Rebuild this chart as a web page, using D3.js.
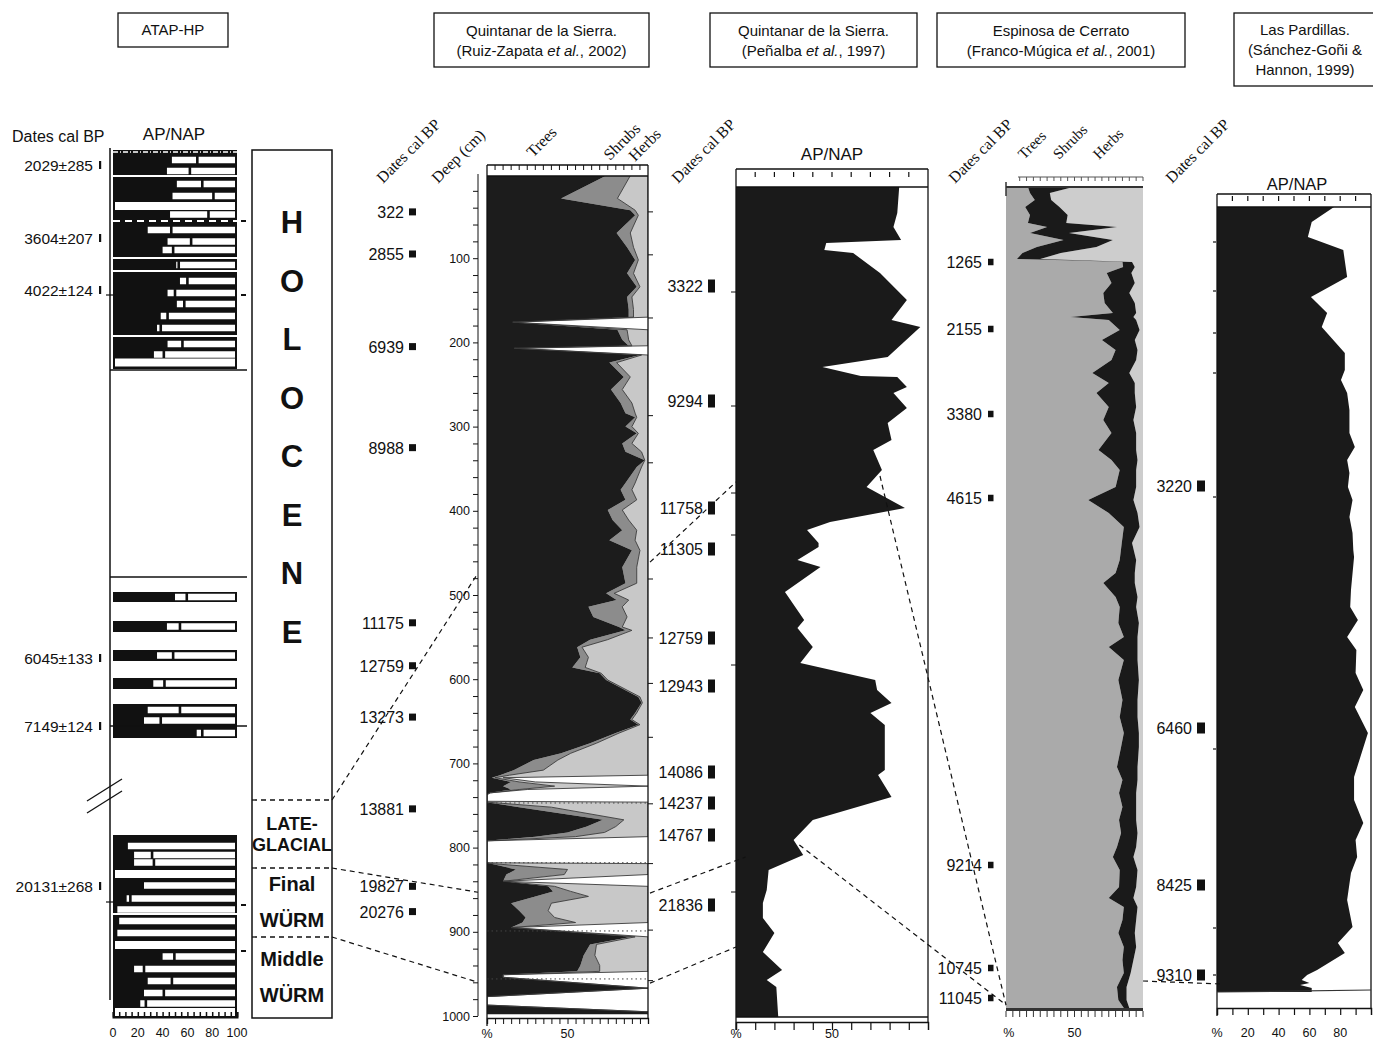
<!DOCTYPE html>
<html>
<head>
<meta charset="utf-8">
<script src="https://cdn.jsdelivr.net/npm/d3@7"></script>
<style>
  body { margin: 0; background: #fff; }
  svg { display: block; }
</style>
</head>
<body>
<svg id="chart" width="1373" height="1041"></svg>
<script>
// ===================== DATA =====================

// --- ATAP-HP (archaeological sequence, AP / shrubs / herbs bars) ---
// [level, AP %, AP + shrubs %]
const atapSamples = [
  [10, 47.5, 68], [21, 43.5, 62], [34, 51.5, 72], [46, 48, 81], [56, 0, 0], [64.5, 46, 77],
  [80, 28, 47], [91.5, 44, 63], [100, 40, 48.5], [115, 51, 53], [131, 54, 60], [143, 44, 50],
  [154, 51.5, 57.5], [166, 38.5, 44], [178, 35.5, 38.5], [194, 44, 56], [204.5, 33, 41], [212.5, 0, 0],
  [447, 50, 59.5], [476.5, 43.5, 54], [505.5, 35.5, 48.5], [533.5, 32.5, 41.5],
  [560, 28, 54], [570.5, 25, 38.5], [583, 67.5, 72],
  [696, 12, 12], [705, 17, 31.5], [712.5, 17, 33], [724, 0, 0], [735.5, 25, 25], [748.5, 11, 14],
  [759.5, 3.5, 3.5], [771, 5, 5], [783, 3.5, 3.5], [795, 0, 0], [806.5, 40, 49.5], [819, 17, 25],
  [831, 28, 47.5], [843, 25, 41], [853.5, 22, 26.5], [862, 0, 0]
];
const atapLayers = [[0, 219], [442, 452], [471, 482], [500, 511], [528, 539], [554, 588], [685, 867]];
const atapLayerBreaks = [26, 108, 121, 186, 764];
const atapZoneLines = [220, 427, 576];
const atapDates = [["2029±285", 15], ["3604±207", 88], ["4022±124", 140], ["6045±133", 508], ["7149±124", 576], ["20131±268", 736]];
const atapTicks = [0, 20, 40, 60, 80, 100];

// chronostratigraphic units (ATAP levels)
const stratUnits = [
  { lines: ["H", "O", "L", "O", "C", "E", "N", "E"], top: 0, bottom: 650 },
  { lines: ["LATE-", "GLACIAL"], top: 650, bottom: 718 },
  { lines: ["Final", "WÜRM"], top: 718, bottom: 787 },
  { lines: ["Middle", "WÜRM"], top: 787, bottom: 868 }
];

// --- Quintanar de la Sierra (Ruiz-Zapata et al., 2002) ---
// [depth cm, trees %, shrubs %, herbs %]
const ruizSamples = [
  [2, 74, 15, 11], [29, 46, 35, 19], [43, 89, 3, 8], [49, 92, 2, 6], [70, 80.5, 8.5, 11],
  [87, 87, 4, 9], [102, 92, 2, 6], [118, 87, 4, 9], [134, 93, 2, 5], [146, 87, 3, 10],
  [161, 88, 3, 9], [170, 88, 3, 9], [176, 16, 0, 0], [185, 81, 6, 13], [197, 84, 4, 12],
  [204, 88, 2, 10], [207, 17, 0, 0], [215, 95, 1, 4], [224, 76, 4.5, 19.5], [241, 85, 4, 11],
  [256, 77, 7, 16], [272, 83, 7, 10], [284, 86, 6, 8], [289, 92, 1, 7], [300, 86, 4, 10],
  [308, 93, 1, 6], [320, 84, 6, 10], [330, 86, 10, 4], [340, 98, 0, 2], [348, 93, 3, 4],
  [367, 86, 6, 8], [375, 83, 7, 10], [387, 86, 7, 7], [399, 75, 9, 16], [411, 78, 10, 12],
  [423, 84, 9, 7], [435, 76, 16, 8], [447, 90, 5, 5], [467, 84, 9, 7], [486, 86, 7, 7],
  [498, 74, 5, 21], [506, 80.5, 7.5, 12], [514, 63, 21, 16], [526, 66, 21, 13], [538, 82, 2, 16],
  [542, 86, 4, 10], [553, 64, 11, 25], [562, 56, 3, 41], [574, 58, 5, 37], [586, 53, 8, 39],
  [593, 70, 1, 29], [601, 74, 1, 25], [613, 86, 1, 13], [621, 94, 1, 5], [628, 96, 0.5, 3.5],
  [640, 92, 1, 7], [648, 89, 1, 10], [654, 94, 1, 5], [664, 80, 2, 18], [676, 64, 4, 32],
  [688, 46, 6, 48], [696, 29, 15, 56], [708, 16.5, 18.5, 65], [714, 8, 6, 86], [717, 3, 2, 5],
  [722, 15, 5, 10], [727, 10, 32, 58], [731, 15, 5, 5], [735, 2, 0, 0], [737, 0, 0, 0],
  [745, 0, 0, 0], [746, 0, 0, 100], [752, 20, 20, 60], [767, 72, 13, 15], [775, 62, 18, 20],
  [782, 50, 23, 27], [787, 30, 25, 45], [792, 0, 0, 0], [818, 0, 0, 0], [819, 2, 1, 97],
  [826, 18, 32, 50], [832, 12, 36, 52], [840, 10, 0, 0], [846, 38, 4, 58], [852, 41, 11, 48],
  [858, 30, 33, 37], [866, 15, 25, 60], [875, 20, 18, 62], [883, 24, 18, 58], [889, 22, 33, 45],
  [895, 15, 0, 0], [906, 90, 2, 8], [915, 64, 4, 32], [928, 60, 7, 33], [940, 58, 12, 30],
  [947, 56, 14, 30], [951, 10, 0, 0], [954, 10, 0, 0], [967, 100, 0, 0], [977, 0, 0, 0],
  [987, 0, 0, 0], [995, 100, 0, 0], [998, 100, 0, 0]
];
const ruizDates = [["322", 45], ["2855", 95], ["6939", 205], ["8988", 325], ["11175", 533], ["12759", 584],
  ["13273", 645], ["13881", 754], ["19827", 846], ["20276", 876]];
const ruizDepthTicks = [100, 200, 300, 400, 500, 600, 700, 800, 900, 1000];
const ruizSideTicks = [45, 96, 171, 287, 343, 481, 551, 605, 669, 748, 819, 898, 958];
const ruizHiatuses = [747, 818, 899, 956];

// --- Quintanar de la Sierra (Peñalba et al., 1997) --- [depth cm, AP %]
const penalbaAP = [
  [0, 85], [26, 84], [40, 82], [53, 86], [56, 47], [63, 46], [66, 61], [86, 75], [113, 89],
  [133, 81], [140, 96], [170, 79], [180, 45], [189, 65], [190, 84], [200, 89], [206, 82],
  [221, 89], [236, 79], [253, 81], [263, 71.5], [283, 76], [300, 68], [321, 88], [335, 49],
  [343, 37], [356, 43], [360, 43], [373, 32], [380, 44], [405, 25.5], [433, 35.5], [441, 32],
  [460, 40], [476, 33.5], [493, 72.5], [503, 73.5], [516, 81], [526, 70], [538, 77.5],
  [583, 77.5], [588, 74], [610, 81], [633, 40], [653, 30], [668, 35], [683, 17], [703, 16],
  [716, 14], [731, 14], [746, 20], [765, 14], [783, 24], [793, 16], [800, 21], [830, 22]
];
const penalbaDates = [["3322", 99], ["9294", 214], ["11758", 321], ["11305", 362], ["12759", 451],
  ["12943", 499], ["14086", 585], ["14237", 616], ["14767", 648], ["21836", 718]];
const penalbaSideTicks = [105, 219, 306, 348, 478, 705];

// --- Espinosa de Cerrato (Franco-Múgica et al., 2001) --- [depth cm, trees %, shrubs %, herbs %]
const espinosaSamples = [
  [0, 16, 33, 51], [6, 17.5, 14.5, 68], [13, 21, 12, 67], [20, 14, 25, 61], [28, 17.5, 27.5, 55],
  [36, 16, 28, 56], [40, 30, 51, 19], [46, 17.5, 28.5, 54], [53, 42, 36, 22], [60, 22.5, 43.5, 34],
  [66, 12, 28, 60], [72, 8, 17, 75], [73.5, 50, 10, 40], [75, 85, 7, 8], [80, 85.5, 8.5, 6],
  [86, 73.5, 18, 8.5], [96, 77, 17, 6], [106, 71, 19, 10], [116, 72, 22, 6], [126, 78, 17, 5],
  [130, 47, 46, 7], [133, 75, 20, 5], [143, 83, 14.5, 2.5], [153, 70, 24, 6], [163, 80, 16, 4],
  [173, 77, 18, 5], [186, 63, 27, 10], [196, 75, 19, 6], [206, 66, 28, 6], [220, 75, 20, 5],
  [233, 71, 22, 7], [246, 77, 18, 5], [263, 67.5, 27.5, 5], [273, 77, 19, 4], [283, 83, 12, 5],
  [300, 80, 15, 5], [313, 60, 33, 7], [326, 75, 21, 4], [340, 86, 11.5, 2.5], [356, 84.5, 7.5, 8],
  [373, 83, 12, 5], [386, 80, 14, 6], [396, 71, 23, 6], [410, 80, 16, 4], [420, 83, 12, 5],
  [436, 82, 15, 3], [450, 86, 10, 4], [460, 75, 21, 4], [473, 86, 10, 4], [493, 82, 15, 3],
  [513, 85, 11, 4], [530, 83, 13, 4], [546, 86, 11, 3], [560, 84, 13, 3], [580, 81, 15, 4],
  [593, 85, 11, 4], [606, 82.5, 12.5, 5], [620, 85, 10, 5], [633, 82.5, 12.5, 5], [646, 84, 12, 4],
  [660, 81, 14, 5], [670, 78, 15, 7], [683, 83, 13, 4], [700, 82.5, 12.5, 5], [711, 75, 18, 7],
  [720, 86, 10, 4], [733, 85, 10, 5], [746, 82, 12, 6], [760, 86, 9, 5], [773, 85, 8, 7],
  [786, 86, 5, 9], [800, 81, 7, 12], [813, 82, 6, 12], [821, 86, 4, 10]
];
const espinosaDates = [["1265", 75], ["2155", 142], ["3380", 227], ["4615", 311], ["9214", 678], ["10745", 781], ["11045", 811]];

// --- Las Pardillas (Sánchez-Goñi & Hannon, 1999) --- [depth cm, AP %]
const pardillasAP = [
  [0, 76], [15, 61.5], [30, 59], [43, 82], [70, 84.5], [90, 61], [106, 71.5], [120, 68], [146, 83],
  [163, 83], [173, 80.5], [186, 84.5], [203, 86], [226, 86], [240, 89.5], [253, 84.5], [266, 86],
  [280, 85], [293, 88], [310, 86], [326, 88], [343, 88.5], [350, 89], [383, 87], [400, 86.5],
  [413, 91.5], [430, 84.5], [443, 90.5], [466, 90], [483, 95], [500, 89.5], [526, 98], [570, 89],
  [593, 89], [616, 95], [633, 90], [650, 91], [666, 87], [693, 84.5], [720, 88], [736, 78.5],
  [746, 83], [763, 65], [768, 58.5], [773, 55], [776, 60], [778, 54], [781, 61.5], [785, 61.5]
];
const pardillasDates = [["3220", 279], ["6460", 521], ["8425", 678], ["9310", 768]];
const pardillasSideTicks = [35, 84, 126, 166, 290, 542, 721, 768];
const pardillasTicks = [20, 40, 60, 80];

// ===================== DRAWING =====================
const SANS = "'Liberation Sans', Arial, Helvetica, sans-serif";
const SERIF = "'Liberation Serif', 'Times New Roman', serif";
const INK = "#111";
const AXIS_LABEL_Y = 1037;
const svg = d3.select("#chart");

function line(g, x1, y1, x2, y2, w = 1, color = INK, dash = null) {
  const l = g.append("line").attr("x1", x1).attr("y1", y1).attr("x2", x2).attr("y2", y2)
    .attr("stroke", color).attr("stroke-width", w);
  if (dash) l.attr("stroke-dasharray", dash);
  return l;
}
function text(g, x, y, str, size, anchor = "start", opts = {}) {
  return g.append("text").attr("x", x).attr("y", y).attr("font-family", opts.family || SANS)
    .attr("font-size", size).attr("font-weight", opts.weight || "normal")
    .attr("text-anchor", anchor).attr("fill", INK).text(str);
}
function rotLabel(x, y, str, size = 16) {
  svg.append("text").attr("transform", `translate(${x},${y}) rotate(-45)`)
    .attr("font-family", SERIF).attr("font-size", size).attr("fill", INK).text(str);
}
function titleBox(x, y, w, h, lines) {
  svg.append("rect").attr("x", x).attr("y", y).attr("width", w).attr("height", h)
    .attr("fill", "#fff").attr("stroke", INK).attr("stroke-width", 1.3);
  lines.forEach(ln => {
    const t = svg.append("text").attr("x", x + w / 2 + (ln.dx || 0)).attr("y", ln.y)
      .attr("text-anchor", "middle").attr("font-family", SANS).attr("font-size", 15).attr("fill", INK);
    ln.parts.forEach(p => t.append("tspan").attr("font-style", p.i ? "italic" : "normal").text(p.t));
  });
}
function dateMarks(g, dates, yScale, textEnd, mx, mw, mh) {
  dates.forEach(([lab, d]) => {
    const y = yScale(d);
    text(g, textEnd, y + 6, lab, 16, "end");
    g.append("rect").attr("x", mx).attr("y", y - mh / 2).attr("width", mw).attr("height", mh).attr("fill", INK);
  });
}

// ---------- titles ----------
titleBox(118, 13, 110, 34, [{ y: 35, parts: [{ t: "ATAP-HP" }] }]);
titleBox(434, 13, 215, 54, [
  { y: 36, parts: [{ t: "Quintanar de la Sierra." }] },
  { y: 56, parts: [{ t: "(Ruiz-Zapata " }, { t: "et al.", i: true }, { t: ", 2002)" }] }]);
titleBox(710, 13, 207, 54, [
  { y: 36, parts: [{ t: "Quintanar de la Sierra." }] },
  { y: 56, parts: [{ t: "(Peñalba " }, { t: "et al.", i: true }, { t: ", 1997)" }] }]);
titleBox(937, 13, 248, 54, [
  { y: 36, parts: [{ t: "Espinosa de Cerrato" }] },
  { y: 56, parts: [{ t: "(Franco-Múgica " }, { t: "et al.", i: true }, { t: ", 2001)" }] }]);
titleBox(1234, 13, 160, 73, [
  { y: 35, dx: -9, parts: [{ t: "Las Pardillas." }] },
  { y: 55, dx: -9, parts: [{ t: "(Sánchez-Goñi &" }] },
  { y: 75, dx: -9, parts: [{ t: "Hannon, 1999)" }] }]);

// ---------- ATAP-HP column ----------
{
  const g = svg.append("g");
  const x = d3.scaleLinear([0, 100], [113, 237]);
  const y = d3.scaleLinear([0, 866], [150, 1016]);

  text(g, 12, 142, "Dates cal BP", 16);
  text(g, 174, 140, "AP/NAP", 17, "middle");

  line(g, 110, 148, 110, 1000, 1.5);
  atapLayers.forEach(([d0, d1]) => {
    g.append("rect").attr("x", x(0)).attr("y", y(d0)).attr("width", x(100) - x(0))
      .attr("height", y(d1) - y(d0)).attr("fill", INK);
  });
  atapLayerBreaks.forEach(d => line(g, x(0), y(d), x(100), y(d), 2, "#fff"));
  line(g, x(0), y(71), x(100), y(71), 2, "#fff", "7,5");
  line(g, x(0), y(2), x(100), y(2), 1.5, "#fff", "5,2,1,2");

  atapSamples.forEach(([d, ap, aps]) => {
    const h = ap === 0 ? 8 : 6.5;
    const y0 = y(d) - h / 2;
    const xe = x(100) - 2;
    const box = (a, b) => g.append("rect").attr("x", a).attr("y", y0).attr("width", Math.max(0, b - a))
      .attr("height", h).attr("fill", "#fff");
    const xa = Math.max(x(ap), x(0) + 2);
    if (aps - ap < 0.8) box(xa, xe);
    else { box(xa, x(aps) - 1.3); box(x(aps) + 1.3, xe); }
  });

  atapZoneLines.forEach(d => line(g, 110, y(d), 247, y(d), 1.6));
  [71, 145, 755, 801].forEach(d => line(g, 241, y(d), 246, y(d), 2));
  [145, 752].forEach(d => line(g, 106, y(d), 114, y(d), 1.2));

  // axis break
  line(g, 87, 801, 122, 779, 1.3);
  line(g, 87, 813, 122, 791, 1.3);

  // dates
  atapDates.forEach(([lab, d]) => {
    text(g, 93, y(d) + 5.5, lab, 15.5, "end");
    g.append("rect").attr("x", 99).attr("y", y(d) - 4).attr("width", 2.2).attr("height", 8).attr("fill", INK);
  });

  // % axis
  const axG = g.append("g").attr("transform", "translate(0,1017)");
  axG.call(d3.axisBottom(x).tickValues(d3.range(0, 101, 5)).tickSize(-5).tickFormat(""));
  axG.select(".domain").attr("stroke", INK).attr("stroke-width", 2);
  axG.selectAll(".tick line").attr("stroke", INK).attr("stroke-width", 1.5);
  atapTicks.forEach(v => text(g, x(v), AXIS_LABEL_Y, String(v), 12.5, "middle"));

  // chronostratigraphic column
  const sx0 = 252, sx1 = 332, cx = (sx0 + sx1) / 2;
  g.append("rect").attr("x", sx0).attr("y", y(0)).attr("width", sx1 - sx0).attr("height", y(868) - y(0))
    .attr("fill", "#fff").attr("stroke", INK).attr("stroke-width", 1.5);
  stratUnits.forEach((u, i) => {
    if (i > 0) line(g, sx0, y(u.top), sx1, y(u.top), 1.3, INK, "5,4");
    if (i === 0) {
      u.lines.forEach((ch, k) => text(g, cx, y(83 + k * 58.5), ch, 31, "middle", { weight: "bold" }));
    } else {
      const size = i === 1 ? 18 : 20;
      const mid = (y(u.top) + y(u.bottom)) / 2;
      const gap = i === 1 ? 21 : 36;
      text(g, cx, mid - gap / 2 + 6, u.lines[0], size, "middle", { weight: "bold" });
      text(g, cx, mid + gap / 2 + 6, u.lines[1], size, "middle", { weight: "bold" });
    }
  });
  svg.node().__atap = { y };
}

// ---------- Quintanar (Ruiz-Zapata) ----------
const rx = d3.scaleLinear([0, 100], [487, 648]);
const ry = d3.scaleLinear([0, 1000], [174, 1016]);
{
  const g = svg.append("g");
  svg.append("clipPath").attr("id", "clipRuiz").append("rect")
    .attr("x", rx(0)).attr("y", 176).attr("width", rx(100) - rx(0)).attr("height", 1016 - 176);
  const rows = ruizSamples.map(([d, t, s, h]) => ({ d, t, ts: t + s, tsh: t + s + h }));
  const area = (f0, f1) => d3.area().y(r => ry(r.d)).x0(r => rx(f0(r))).x1(r => rx(f1(r)));
  const pg = g.append("g").attr("clip-path", "url(#clipRuiz)");
  pg.append("path").attr("d", area(r => r.ts, r => r.tsh)(rows)).attr("fill", "#c8c8c8");
  pg.append("path").attr("d", area(r => r.t, r => r.ts)(rows)).attr("fill", "#8c8c8c");
  pg.append("path").attr("d", area(() => 0, r => r.t)(rows)).attr("fill", "#1c1c1c");
  const edge = f => d3.line().y(r => ry(r.d)).x(r => rx(f(r)));
  pg.append("path").attr("d", edge(r => r.ts)(rows)).attr("fill", "none").attr("stroke", "#3a3a3a").attr("stroke-width", 0.9);
  pg.append("path").attr("d", edge(r => r.tsh)(rows)).attr("fill", "none").attr("stroke", "#3a3a3a").attr("stroke-width", 0.9);
  ruizHiatuses.forEach(d => line(pg, rx(0), ry(d), rx(100), ry(d), 1, "#444", "1.5,3"));

  // frame and % strips
  line(g, rx(0), 165, rx(0), 1026, 1.3);
  line(g, rx(100), 165, rx(100), 1018, 1.3);
  line(g, rx(0), 165, rx(100), 165, 1.3);
  line(g, rx(0), 176, rx(100), 176, 1.3);
  d3.range(5, 100, 5).forEach(v => line(g, rx(v), 165, rx(v), 170, 1));
  const bx = g.append("g").attr("transform", "translate(0,1018)");
  bx.call(d3.axisBottom(rx).tickValues(d3.range(0, 101, 5)).tickSize(6).tickFormat(""));
  bx.select(".domain").attr("stroke", INK).attr("stroke-width", 1.3);
  bx.selectAll(".tick line").attr("stroke", INK);
  text(g, rx(0), AXIS_LABEL_Y + 1, "%", 12.5, "middle");
  text(g, rx(50), AXIS_LABEL_Y + 1, "50", 12.5, "middle");

  // depth axis
  const dx = g.append("g").attr("transform", "translate(478,0)");
  dx.call(d3.axisLeft(ry).tickValues(d3.range(20, 1001, 20)).tickSize(5).tickFormat(""));
  dx.select(".domain").attr("stroke", INK).attr("d", `M0,${ry(0)}V${ry(1000)}`);
  dx.selectAll(".tick line").attr("stroke", INK);
  ruizDepthTicks.forEach(v => text(g, 470, ry(v) + 4.5, String(v), 12.5, "end"));

  ruizSideTicks.forEach(d => line(g, rx(100), ry(d), rx(100) + 5, ry(d), 1));
  dateMarks(g, ruizDates, ry, 404, 409, 7, 7);

  rotLabel(383, 184, "Dates cal BP");
  rotLabel(438, 184, "Deep (cm)");
  rotLabel(533, 158, "Trees");
  rotLabel(610, 161, "Shrubs");
  rotLabel(635, 162, "Herbs");
}

// ---------- Quintanar (Peñalba) ----------
const px = d3.scaleLinear([0, 100], [736, 928]);
const py = d3.scaleLinear([0, 830], [187, 1017]);
{
  const g = svg.append("g");
  text(g, px(50), 160, "AP/NAP", 17, "middle");
  g.append("path").attr("d", d3.area().y(r => py(r[0])).x0(px(0)).x1(r => px(r[1]))(penalbaAP)).attr("fill", "#1a1a1a");
  line(g, px(0), 169, px(100), 169, 1.3);
  line(g, px(0), 187, px(100), 187, 1.3);
  d3.range(10, 100, 10).forEach(v => line(g, px(v), 172, px(v), 177, 1.2));
  line(g, px(0), 169, px(0), 1030, 1.3);
  line(g, px(100), 169, px(100), 1022, 1.3);
  line(g, px(0), py(830), px(100), py(830), 1.3);
  const bx = g.append("g").attr("transform", "translate(0,1022)");
  bx.call(d3.axisBottom(px).tickValues(d3.range(0, 101, 10)).tickSize(8).tickFormat(""));
  bx.select(".domain").attr("stroke", INK).attr("stroke-width", 1.3);
  bx.selectAll(".tick line").attr("stroke", INK).attr("stroke-width", 1.2);
  text(g, px(0), AXIS_LABEL_Y + 1, "%", 12.5, "middle");
  text(g, px(50), AXIS_LABEL_Y + 1, "50", 12.5, "middle");
  penalbaSideTicks.forEach(d => line(g, px(0) - 5, py(d), px(0), py(d), 1));
  dateMarks(g, penalbaDates, py, 703, 708, 7, 13);
  rotLabel(678, 184, "Dates cal BP");
}

// ---------- Espinosa de Cerrato ----------
const ex = d3.scaleLinear([0, 100], [1006, 1143]);
const ey = d3.scaleLinear([0, 821], [187, 1008]);
{
  const g = svg.append("g");
  const rows = espinosaSamples.map(([d, t, s, h]) => ({ d, t, ts: t + s, tsh: t + s + h }));
  const area = (f0, f1) => d3.area().y(r => ey(r.d)).x0(r => ex(f0(r))).x1(r => ex(f1(r)));
  g.append("path").attr("d", area(() => 0, r => r.t)(rows)).attr("fill", "#aaaaaa");
  g.append("path").attr("d", area(r => r.ts, r => r.tsh)(rows)).attr("fill", "#cdcdcd");
  g.append("path").attr("d", area(r => r.t, r => r.ts)(rows)).attr("fill", "#1a1a1a");
  line(g, ex(0), 187, ex(100), 187, 2, "#333");
  line(g, ex(0), 182, ex(0), 196, 1.5, "#333");
  line(g, 1018, 177, ex(100), 177, 1, "#555");
  d3.range(10, 101, 5).forEach(v => line(g, ex(v), 177, ex(v), 181, 1, "#555"));
  line(g, ex(0), 1009.5, ex(100), 1009.5, 3, "#333");
  d3.range(0, 101, 5).forEach(v => line(g, ex(v), 1011, ex(v), 1017, 1, "#333"));
  text(g, ex(2), AXIS_LABEL_Y, "%", 12.5, "middle");
  text(g, ex(50), AXIS_LABEL_Y, "50", 12.5, "middle");
  dateMarks(g, espinosaDates, ey, 982, 988, 5.5, 6.5);
  rotLabel(955, 184, "Dates cal BP");
  rotLabel(1024, 160, "Trees", 15);
  rotLabel(1059, 160, "Shrubs", 15);
  rotLabel(1099, 160, "Herbs", 15);
}

// ---------- Las Pardillas ----------
const lx = d3.scaleLinear([0, 100], [1217, 1371]);
const ly = d3.scaleLinear([0, 785], [207, 992]);
{
  const g = svg.append("g");
  text(g, lx(52), 190, "AP/NAP", 16.5, "middle");
  g.append("path").attr("d", d3.area().y(r => ly(r[0])).x0(lx(0)).x1(r => lx(r[1]))(pardillasAP)).attr("fill", "#1a1a1a");
  line(g, lx(0), 194, lx(100), 194, 1.3);
  line(g, lx(0), 207, lx(100), 207, 1.3);
  d3.range(10, 100, 10).forEach(v => line(g, lx(v), 196, lx(v), 201, 1.2));
  line(g, lx(0), 194, lx(0), 1016, 1.3);
  line(g, lx(100), 194, lx(100), 1008, 1.3);
  line(g, lx(0), ly(785), lx(100), ly(783), 1.2, "#333");
  const bx = g.append("g").attr("transform", "translate(0,1008)");
  bx.call(d3.axisBottom(lx).tickValues(d3.range(0, 101, 10)).tickSize(7).tickFormat(""));
  bx.select(".domain").attr("stroke", INK).attr("stroke-width", 1.3);
  bx.selectAll(".tick line").attr("stroke", INK).attr("stroke-width", 1.2);
  text(g, lx(0), AXIS_LABEL_Y, "%", 12.5, "middle");
  pardillasTicks.forEach(v => text(g, lx(v), AXIS_LABEL_Y, String(v), 12.5, "middle"));
  pardillasSideTicks.forEach(d => line(g, lx(0) - 4, ly(d), lx(0) - 1, ly(d), 1.2));
  dateMarks(g, pardillasDates, ly, 1192, 1197, 8, 11);
  rotLabel(1172, 184, "Dates cal BP");
}

// ---------- correlation lines between sequences ----------
{
  const g = svg.append("g");
  const ay = svg.node().__atap.y;
  const dash = "5,4";
  // stratigraphic boundaries -> Ruiz-Zapata depths
  [[650, 474], [718, 853], [787, 960]].forEach(([a, r]) => line(g, 332, ay(a), 478, ry(r), 1.2, INK, dash));
  // Ruiz-Zapata -> Peñalba
  [[461, 295, 0], [854, 670, 5], [961, 760, 0]].forEach(([r, p, pc]) =>
    line(g, rx(100) + 2, ry(r), px(pc), py(p), 1.2, INK, dash));
  // Peñalba -> Espinosa
  [[289, 75], [658, 33]].forEach(([p, pc]) => line(g, px(pc), py(p), ex(0), ey(818), 1.2, INK, dash));
  // Espinosa -> Las Pardillas
  line(g, ex(100), ey(794), lx(3), ly(777), 1.2, INK, dash);
}
</script>
</body>
</html>
